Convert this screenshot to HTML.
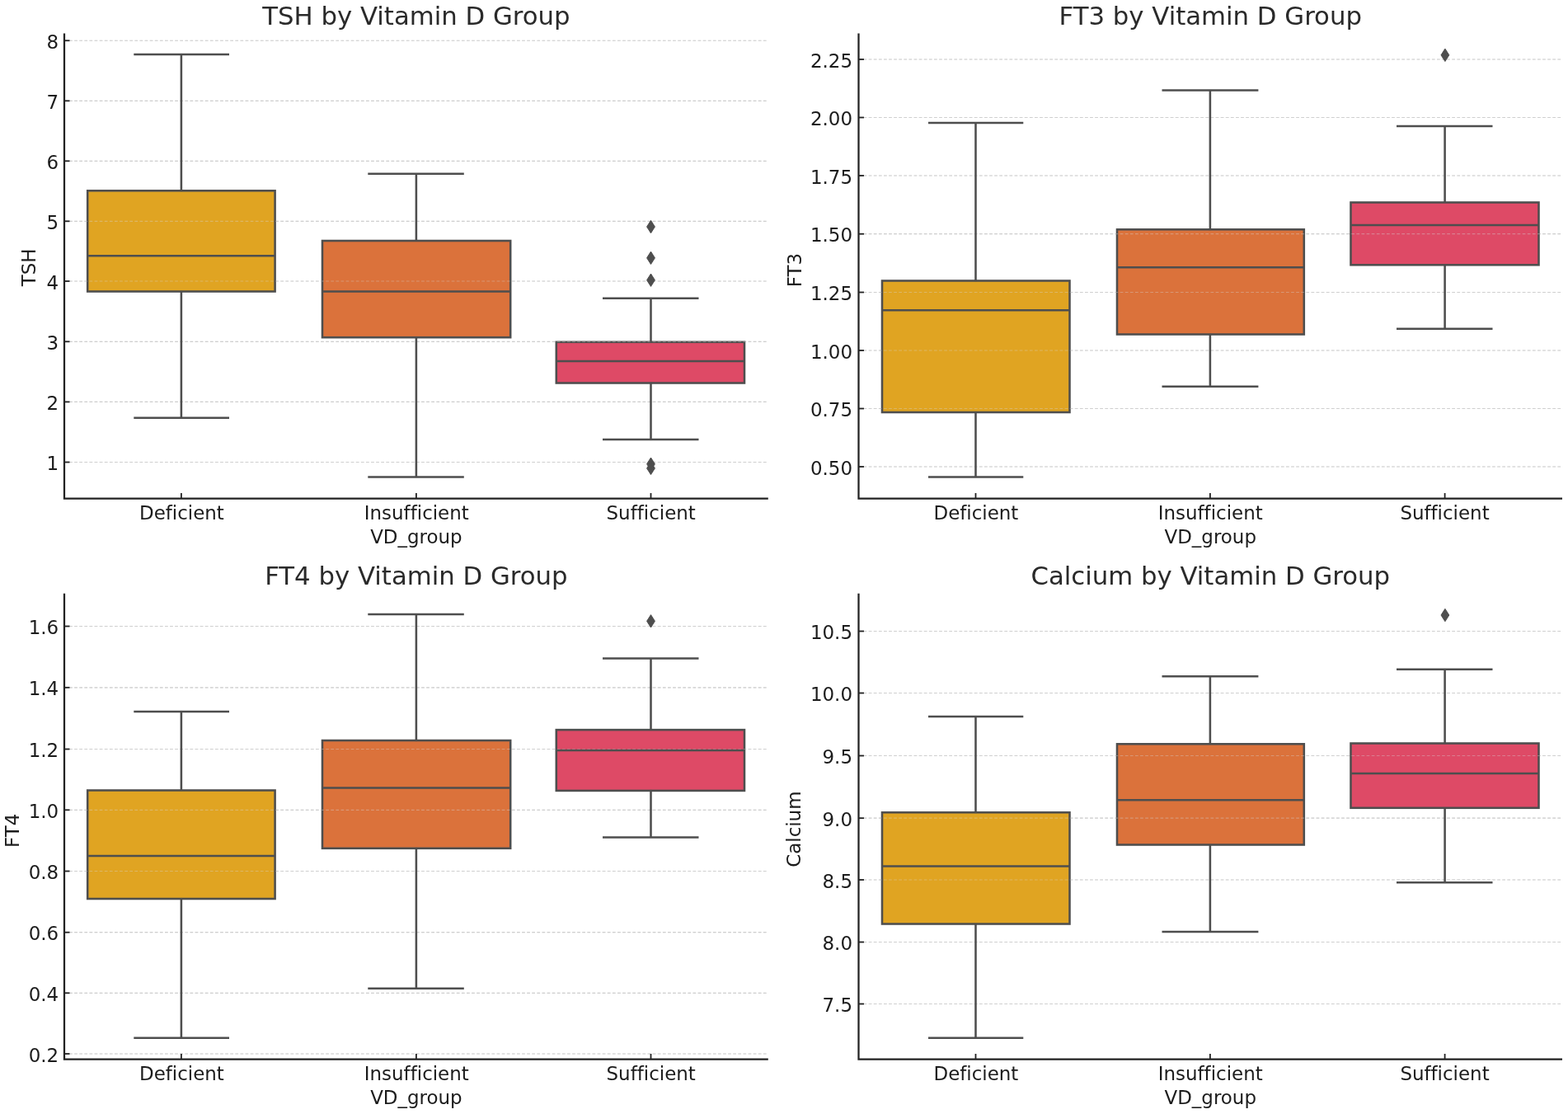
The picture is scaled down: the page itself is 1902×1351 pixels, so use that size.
<!DOCTYPE html>
<html lang="en">
<head>
<meta charset="utf-8">
<title>Thyroid markers and calcium by Vitamin D group</title>
<style>
html,body{margin:0;padding:0;background:#fff;}
body{width:1902px;height:1351px;overflow:hidden;}
svg{display:block;}
text{font-family:"DejaVu Sans","Liberation Sans",sans-serif;font-variant-ligatures:none;font-feature-settings:"liga" 0,"clig" 0;font-kerning:normal;}
.tk{font-size:22.95px;fill:#1c1c1c;}
.yt{font-size:22.95px;fill:#1c1c1c;}
.ti{font-size:30.75px;fill:#2a2a2a;}
.gr{stroke:#cccccc;stroke-width:1.2;stroke-dasharray:3.7 2.4;fill:none;}
.go{stroke:#d4d4d4;opacity:0.38;}
.sp{stroke:#222222;stroke-width:2.25;fill:none;stroke-linecap:butt;}
.tm{stroke:#222222;stroke-width:1.8;fill:none;}
.bx{stroke:#4e4e4e;stroke-width:2.55;stroke-linejoin:miter;}
.ln{stroke:#4e4e4e;stroke-width:2.55;fill:none;}
.fl{fill:#4e4e4e;stroke:#4e4e4e;stroke-width:1;stroke-linejoin:miter;}
</style>
</head>
<body>
<svg width="1902" height="1351" viewBox="0 0 1902 1351">
<rect x="0" y="0" width="1902" height="1351" fill="#ffffff"/>

<g>
<path class="gr" d="M78 49.25H931.8M78 122.3H931.8M78 195.3H931.8M78 268.3H931.8M78 341H931.8M78 414.3H931.8M78 487.4H931.8M78 560.5H931.8"/>
<rect x="106.2" y="231.3" width="227.4" height="122.2" fill="#E0A422"/>
<rect x="391" y="292" width="228.2" height="117.2" fill="#DB723B"/>
<rect x="674.8" y="414.8" width="228.2" height="49.7" fill="#DE4A66"/>
<rect class="bx" x="106.2" y="231.3" width="227.4" height="122.2" fill="none"/>
<rect class="bx" x="391" y="292" width="228.2" height="117.2" fill="none"/>
<rect class="bx" x="674.8" y="414.8" width="228.2" height="49.7" fill="none"/>
<path class="gr go" d="M78 49.25H931.8M78 122.3H931.8M78 195.3H931.8M78 268.3H931.8M78 341H931.8M78 414.3H931.8M78 487.4H931.8M78 560.5H931.8"/>
<path class="ln" d="M219.9 231.3V66M219.9 353.5V506.8M162.3 66H278M162.3 506.8H278M106.2 310.3H333.6"/>
<path class="ln" d="M504.9 292V210.8M504.9 409.2V578.5M446.3 210.8H562.8M446.3 578.5H562.8M391 353.5H619.2"/>
<path class="ln" d="M789.5 414.8V361.8M789.5 464.5V533M731 361.8H847.5M731 533H847.5M674.8 438H903"/>
<path class="fl" d="M789.5 267.3L794.4 275L789.5 282.7L784.6 275Z"/>
<path class="fl" d="M789.5 305.1L794.4 312.8L789.5 320.5L784.6 312.8Z"/>
<path class="fl" d="M789.5 332L794.4 339.7L789.5 347.4L784.6 339.7Z"/>
<path class="fl" d="M789.5 555L794.4 562.7L789.5 570.4L784.6 562.7Z"/>
<path class="fl" d="M789.5 560.2L794.4 567.9L789.5 575.6L784.6 567.9Z"/>
<line class="tm" x1="78" y1="49.25" x2="84.5" y2="49.25"/>
<line class="tm" x1="78" y1="122.3" x2="84.5" y2="122.3"/>
<line class="tm" x1="78" y1="195.3" x2="84.5" y2="195.3"/>
<line class="tm" x1="78" y1="268.3" x2="84.5" y2="268.3"/>
<line class="tm" x1="78" y1="341" x2="84.5" y2="341"/>
<line class="tm" x1="78" y1="414.3" x2="84.5" y2="414.3"/>
<line class="tm" x1="78" y1="487.4" x2="84.5" y2="487.4"/>
<line class="tm" x1="78" y1="560.5" x2="84.5" y2="560.5"/>
<line class="tm" x1="219.9" y1="604.5" x2="219.9" y2="598"/>
<line class="tm" x1="504.9" y1="604.5" x2="504.9" y2="598"/>
<line class="tm" x1="789.5" y1="604.5" x2="789.5" y2="598"/>
<path class="sp" d="M78 40.6V604.5H931.8"/>
<text class="yt" x="71.2" y="58.75" text-anchor="end">8</text>
<text class="yt" x="71.2" y="131.8" text-anchor="end">7</text>
<text class="yt" x="71.2" y="204.8" text-anchor="end">6</text>
<text class="yt" x="71.2" y="277.8" text-anchor="end">5</text>
<text class="yt" x="71.2" y="350.5" text-anchor="end">4</text>
<text class="yt" x="71.2" y="423.8" text-anchor="end">3</text>
<text class="yt" x="71.2" y="496.9" text-anchor="end">2</text>
<text class="yt" x="71.2" y="570" text-anchor="end">1</text>
<text class="tk" x="220.4" y="629.7" text-anchor="middle">Deficient</text>
<text class="tk" x="505.3" y="629.7" text-anchor="middle">Insufficient</text>
<text class="tk" x="789.7" y="629.7" text-anchor="middle">Sufficient</text>
<text class="tk" x="504.9" y="658.8" text-anchor="middle">VD_group</text>
<text class="tk" transform="translate(42.5 324.35) rotate(-90)" text-anchor="middle">TSH</text>
<text class="ti" x="504.9" y="29.6" text-anchor="middle">TSH by Vitamin D Group</text>
</g>
<g>
<path class="gr" d="M1041.5 72H1895M1041.5 142.5H1895M1041.5 213H1895M1041.5 283.7H1895M1041.5 354.5H1895M1041.5 425H1895M1041.5 495.5H1895M1041.5 566H1895"/>
<rect x="1070" y="340.5" width="227.5" height="159.5" fill="#E0A422"/>
<rect x="1355" y="278.3" width="226.8" height="127.2" fill="#DB723B"/>
<rect x="1638.5" y="245.5" width="228" height="75.8" fill="#DE4A66"/>
<rect class="bx" x="1070" y="340.5" width="227.5" height="159.5" fill="none"/>
<rect class="bx" x="1355" y="278.3" width="226.8" height="127.2" fill="none"/>
<rect class="bx" x="1638.5" y="245.5" width="228" height="75.8" fill="none"/>
<path class="gr go" d="M1041.5 72H1895M1041.5 142.5H1895M1041.5 213H1895M1041.5 283.7H1895M1041.5 354.5H1895M1041.5 425H1895M1041.5 495.5H1895M1041.5 566H1895"/>
<path class="ln" d="M1183.5 340.5V149M1183.5 500V578.5M1126 149H1241.3M1126 578.5H1241.3M1070 376.3H1297.5"/>
<path class="ln" d="M1467.9 278.3V109.5M1467.9 405.5V468.8M1409.5 109.5H1526.4M1409.5 468.8H1526.4M1355 324.3H1581.8"/>
<path class="ln" d="M1752.6 245.5V153M1752.6 321.3V398.8M1694 153H1810.5M1694 398.8H1810.5M1638.5 273H1866.5"/>
<path class="fl" d="M1752.9 59.1L1757.8 66.8L1752.9 74.5L1748 66.8Z"/>
<line class="tm" x1="1041.5" y1="72" x2="1048" y2="72"/>
<line class="tm" x1="1041.5" y1="142.5" x2="1048" y2="142.5"/>
<line class="tm" x1="1041.5" y1="213" x2="1048" y2="213"/>
<line class="tm" x1="1041.5" y1="283.7" x2="1048" y2="283.7"/>
<line class="tm" x1="1041.5" y1="354.5" x2="1048" y2="354.5"/>
<line class="tm" x1="1041.5" y1="425" x2="1048" y2="425"/>
<line class="tm" x1="1041.5" y1="495.5" x2="1048" y2="495.5"/>
<line class="tm" x1="1041.5" y1="566" x2="1048" y2="566"/>
<line class="tm" x1="1183.5" y1="604.5" x2="1183.5" y2="598"/>
<line class="tm" x1="1467.9" y1="604.5" x2="1467.9" y2="598"/>
<line class="tm" x1="1752.6" y1="604.5" x2="1752.6" y2="598"/>
<path class="sp" d="M1041.5 40.6V604.5H1895"/>
<text class="yt" x="1034" y="81.5" text-anchor="end">2.25</text>
<text class="yt" x="1034" y="152" text-anchor="end">2.00</text>
<text class="yt" x="1034" y="222.5" text-anchor="end">1.75</text>
<text class="yt" x="1034" y="293.2" text-anchor="end">1.50</text>
<text class="yt" x="1034" y="364" text-anchor="end">1.25</text>
<text class="yt" x="1034" y="434.5" text-anchor="end">1.00</text>
<text class="yt" x="1034" y="505" text-anchor="end">0.75</text>
<text class="yt" x="1034" y="575.5" text-anchor="end">0.50</text>
<text class="tk" x="1183.9" y="629.7" text-anchor="middle">Deficient</text>
<text class="tk" x="1468.2" y="629.7" text-anchor="middle">Insufficient</text>
<text class="tk" x="1752.5" y="629.7" text-anchor="middle">Sufficient</text>
<text class="tk" x="1468.25" y="658.8" text-anchor="middle">VD_group</text>
<text class="tk" transform="translate(971.5 327.55) rotate(-90)" text-anchor="middle">FT3</text>
<text class="ti" x="1468.25" y="29.6" text-anchor="middle">FT3 by Vitamin D Group</text>
</g>
<g>
<path class="gr" d="M78 759.5H931.8M78 833.8H931.8M78 908.5H931.8M78 982.3H931.8M78 1056.5H931.8M78 1130.7H931.8M78 1204.3H931.8M78 1278H931.8"/>
<rect x="106.2" y="958.5" width="227.4" height="131.5" fill="#E0A422"/>
<rect x="391" y="898" width="228.2" height="130.8" fill="#DB723B"/>
<rect x="674.8" y="885.1" width="228.2" height="73.8" fill="#DE4A66"/>
<rect class="bx" x="106.2" y="958.5" width="227.4" height="131.5" fill="none"/>
<rect class="bx" x="391" y="898" width="228.2" height="130.8" fill="none"/>
<rect class="bx" x="674.8" y="885.1" width="228.2" height="73.8" fill="none"/>
<path class="gr go" d="M78 759.5H931.8M78 833.8H931.8M78 908.5H931.8M78 982.3H931.8M78 1056.5H931.8M78 1130.7H931.8M78 1204.3H931.8M78 1278H931.8"/>
<path class="ln" d="M219.9 958.5V863M219.9 1090V1258.8M162.3 863H278M162.3 1258.8H278M106.2 1038H333.6"/>
<path class="ln" d="M504.9 898V745M504.9 1028.8V1198.8M446.3 745H562.8M446.3 1198.8H562.8M391 955.5H619.2"/>
<path class="ln" d="M789.5 885.1V798.5M789.5 958.9V1015.5M731 798.5H847.5M731 1015.5H847.5M674.8 910H903"/>
<path class="fl" d="M789.5 745.6L794.4 753.3L789.5 761L784.6 753.3Z"/>
<line class="tm" x1="78" y1="759.5" x2="84.5" y2="759.5"/>
<line class="tm" x1="78" y1="833.8" x2="84.5" y2="833.8"/>
<line class="tm" x1="78" y1="908.5" x2="84.5" y2="908.5"/>
<line class="tm" x1="78" y1="982.3" x2="84.5" y2="982.3"/>
<line class="tm" x1="78" y1="1056.5" x2="84.5" y2="1056.5"/>
<line class="tm" x1="78" y1="1130.7" x2="84.5" y2="1130.7"/>
<line class="tm" x1="78" y1="1204.3" x2="84.5" y2="1204.3"/>
<line class="tm" x1="78" y1="1278" x2="84.5" y2="1278"/>
<line class="tm" x1="219.9" y1="1284.5" x2="219.9" y2="1278"/>
<line class="tm" x1="504.9" y1="1284.5" x2="504.9" y2="1278"/>
<line class="tm" x1="789.5" y1="1284.5" x2="789.5" y2="1278"/>
<path class="sp" d="M78 719.8V1284.5H931.8"/>
<text class="yt" x="71.2" y="769" text-anchor="end">1.6</text>
<text class="yt" x="71.2" y="843.3" text-anchor="end">1.4</text>
<text class="yt" x="71.2" y="918" text-anchor="end">1.2</text>
<text class="yt" x="71.2" y="991.8" text-anchor="end">1.0</text>
<text class="yt" x="71.2" y="1066" text-anchor="end">0.8</text>
<text class="yt" x="71.2" y="1140.2" text-anchor="end">0.6</text>
<text class="yt" x="71.2" y="1213.8" text-anchor="end">0.4</text>
<text class="yt" x="71.2" y="1287.5" text-anchor="end">0.2</text>
<text class="tk" x="220.4" y="1310.4" text-anchor="middle">Deficient</text>
<text class="tk" x="505.3" y="1310.4" text-anchor="middle">Insufficient</text>
<text class="tk" x="789.7" y="1310.4" text-anchor="middle">Sufficient</text>
<text class="tk" x="504.9" y="1339.3" text-anchor="middle">VD_group</text>
<text class="tk" transform="translate(23 1007.35) rotate(-90)" text-anchor="middle">FT4</text>
<text class="ti" x="504.9" y="708.6" text-anchor="middle">FT4 by Vitamin D Group</text>
</g>
<g>
<path class="gr" d="M1041.5 765.5H1895M1041.5 840.5H1895M1041.5 916.5H1895M1041.5 992.2H1895M1041.5 1067H1895M1041.5 1142.5H1895M1041.5 1217.5H1895"/>
<rect x="1070" y="985.3" width="227.5" height="135.2" fill="#E0A422"/>
<rect x="1355" y="902.3" width="226.8" height="122.2" fill="#DB723B"/>
<rect x="1638.5" y="901.5" width="228" height="78.3" fill="#DE4A66"/>
<rect class="bx" x="1070" y="985.3" width="227.5" height="135.2" fill="none"/>
<rect class="bx" x="1355" y="902.3" width="226.8" height="122.2" fill="none"/>
<rect class="bx" x="1638.5" y="901.5" width="228" height="78.3" fill="none"/>
<path class="gr go" d="M1041.5 765.5H1895M1041.5 840.5H1895M1041.5 916.5H1895M1041.5 992.2H1895M1041.5 1067H1895M1041.5 1142.5H1895M1041.5 1217.5H1895"/>
<path class="ln" d="M1183.5 985.3V869M1183.5 1120.5V1258.8M1126 869H1241.3M1126 1258.8H1241.3M1070 1050.5H1297.5"/>
<path class="ln" d="M1467.9 902.3V820.3M1467.9 1024.5V1130M1409.5 820.3H1526.4M1409.5 1130H1526.4M1355 970.3H1581.8"/>
<path class="ln" d="M1752.6 901.5V811.8M1752.6 979.8V1070.3M1694 811.8H1810.5M1694 1070.3H1810.5M1638.5 938H1866.5"/>
<path class="fl" d="M1752.9 738.3L1757.8 746L1752.9 753.7L1748 746Z"/>
<line class="tm" x1="1041.5" y1="765.5" x2="1048" y2="765.5"/>
<line class="tm" x1="1041.5" y1="840.5" x2="1048" y2="840.5"/>
<line class="tm" x1="1041.5" y1="916.5" x2="1048" y2="916.5"/>
<line class="tm" x1="1041.5" y1="992.2" x2="1048" y2="992.2"/>
<line class="tm" x1="1041.5" y1="1067" x2="1048" y2="1067"/>
<line class="tm" x1="1041.5" y1="1142.5" x2="1048" y2="1142.5"/>
<line class="tm" x1="1041.5" y1="1217.5" x2="1048" y2="1217.5"/>
<line class="tm" x1="1183.5" y1="1284.5" x2="1183.5" y2="1278"/>
<line class="tm" x1="1467.9" y1="1284.5" x2="1467.9" y2="1278"/>
<line class="tm" x1="1752.6" y1="1284.5" x2="1752.6" y2="1278"/>
<path class="sp" d="M1041.5 719.8V1284.5H1895"/>
<text class="yt" x="1034" y="775" text-anchor="end">10.5</text>
<text class="yt" x="1034" y="850" text-anchor="end">10.0</text>
<text class="yt" x="1034" y="926" text-anchor="end">9.5</text>
<text class="yt" x="1034" y="1001.7" text-anchor="end">9.0</text>
<text class="yt" x="1034" y="1076.5" text-anchor="end">8.5</text>
<text class="yt" x="1034" y="1152" text-anchor="end">8.0</text>
<text class="yt" x="1034" y="1227" text-anchor="end">7.5</text>
<text class="tk" x="1183.9" y="1310.4" text-anchor="middle">Deficient</text>
<text class="tk" x="1468.2" y="1310.4" text-anchor="middle">Insufficient</text>
<text class="tk" x="1752.5" y="1310.4" text-anchor="middle">Sufficient</text>
<text class="tk" x="1468.25" y="1339.3" text-anchor="middle">VD_group</text>
<text class="tk" transform="translate(971 1005.65) rotate(-90)" text-anchor="middle">Calcium</text>
<text class="ti" x="1468.25" y="708.6" text-anchor="middle">Calcium by Vitamin D Group</text>
</g>
</svg>
</body>
</html>
